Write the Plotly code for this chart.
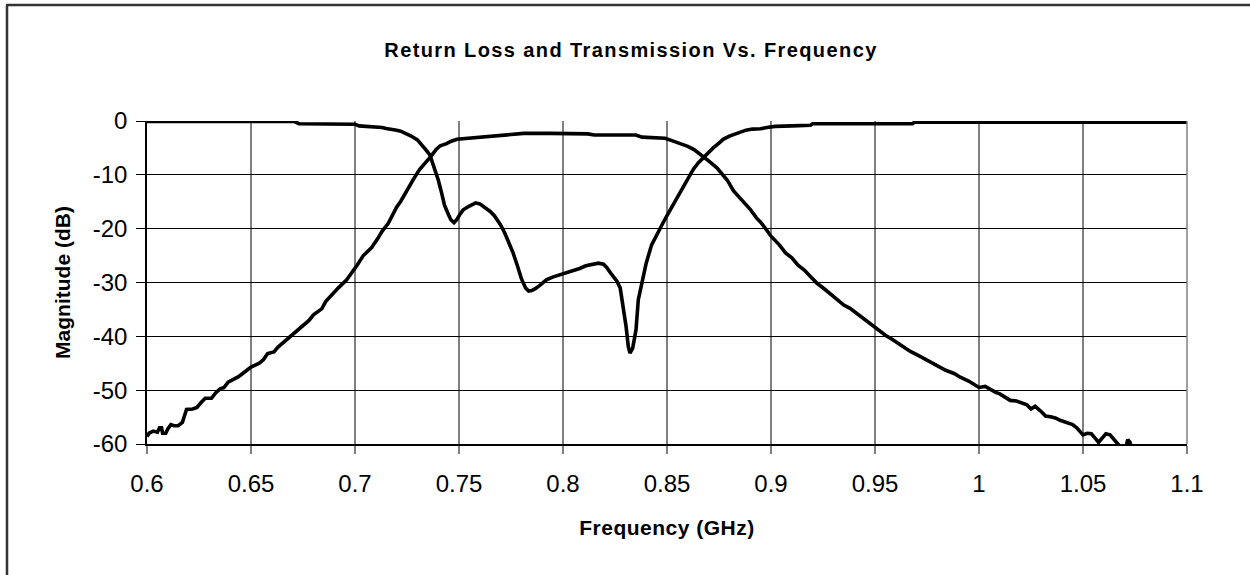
import plotly.graph_objects as go

# ---- data ----
s21_freq = [0.600, 0.601, 0.603, 0.605, 0.606, 0.607, 0.6075, 0.609, 0.610, 0.6115, 0.613, 0.615,
            0.617, 0.618, 0.619, 0.622, 0.624, 0.626, 0.628, 0.631, 0.633, 0.635, 0.637, 0.639,
            0.642, 0.644, 0.646, 0.650, 0.654, 0.656, 0.658, 0.661, 0.663, 0.666, 0.669, 0.672,
            0.675, 0.678, 0.680, 0.684, 0.686, 0.688, 0.692, 0.696, 0.699, 0.701, 0.704, 0.708,
            0.711, 0.713, 0.716, 0.718, 0.720, 0.722, 0.725, 0.728, 0.731, 0.734, 0.736, 0.739,
            0.741, 0.744, 0.746, 0.749, 0.752, 0.755, 0.760, 0.764, 0.770, 0.775, 0.781, 0.794,
            0.805, 0.812, 0.815, 0.825, 0.835, 0.838, 0.845, 0.849, 0.852, 0.856, 0.860, 0.863,
            0.867, 0.870, 0.874, 0.877, 0.879, 0.882, 0.885, 0.887, 0.890, 0.893, 0.895, 0.898,
            0.900, 0.904, 0.907, 0.910, 0.913, 0.916, 0.919, 0.922, 0.926, 0.929, 0.932, 0.935,
            0.938, 0.941, 0.944, 0.948, 0.951, 0.955, 0.958, 0.962, 0.967, 0.971, 0.976, 0.980,
            0.984, 0.988, 0.991, 0.995, 0.998, 1.000, 1.003, 1.005, 1.008, 1.010, 1.013, 1.015,
            1.018, 1.021, 1.023, 1.025, 1.027, 1.030, 1.032, 1.035, 1.037, 1.039, 1.041, 1.043,
            1.045, 1.047, 1.049, 1.050, 1.052, 1.054, 1.056, 1.0575, 1.059, 1.061, 1.063, 1.065,
            1.067, 1.069, 1.0705, 1.071, 1.0715, 1.0725, 1.074]
s21_db = [-58.6, -58.0, -57.6, -57.8, -57.0, -57.0, -58.0, -58.0, -57.2, -56.4, -56.6, -56.6,
          -56.0, -54.5, -53.6, -53.5, -53.2, -52.3, -51.5, -51.5, -50.5, -49.8, -49.5, -48.5,
          -47.9, -47.5, -46.9, -45.7, -45.0, -44.3, -43.2, -42.9, -42.0, -41.0, -40.2, -39.2,
          -38.2, -37.0, -36.0, -34.9, -33.5, -32.6, -31.0, -29.5, -28.0, -26.8, -25.0, -23.5,
          -21.8, -20.5, -19.0, -17.5, -16.0, -14.9, -12.8, -10.9, -9.0, -7.8, -6.8, -5.3,
          -4.6, -4.2, -3.8, -3.4, -3.3, -3.1, -3.0, -2.8, -2.7, -2.5, -2.3, -2.3,
          -2.3, -2.4, -2.6, -2.6, -2.6, -3.0, -3.1, -3.2, -3.6, -4.1, -4.7, -5.3,
          -6.4, -7.4, -8.7, -10.0, -11.0, -13.0, -14.3, -15.2, -16.4, -18.0, -18.8, -20.3,
          -21.4, -23.0, -24.5, -25.4, -26.8, -27.7, -28.9, -30.1, -31.3, -32.3, -33.1, -34.2,
          -34.8, -35.7, -36.6, -37.8, -38.8, -39.8, -40.5, -41.5, -42.8, -43.6, -44.6, -45.5,
          -46.3, -46.9, -47.6, -48.3, -49.0, -49.5, -49.3, -49.8, -50.4, -50.7, -51.5, -51.9,
          -52.0, -52.4, -52.7, -53.5, -53.0, -54.0, -54.8, -55.0, -55.2, -55.6, -55.9, -56.2,
          -56.4, -57.0, -58.0, -58.3, -58.0, -58.1, -59.0, -59.7, -59.0, -58.1, -58.3, -59.2,
          -60.0, -61.0, -60.8, -59.6, -59.2, -59.6, -61.5]

s11_freq = [0.600, 0.630, 0.671, 0.673, 0.690, 0.700, 0.702, 0.710, 0.713, 0.715, 0.718, 0.720,
            0.722, 0.725, 0.727, 0.730, 0.732, 0.734, 0.736, 0.738, 0.740, 0.7416, 0.743, 0.7445,
            0.746, 0.7476, 0.749, 0.7505, 0.752, 0.755, 0.758, 0.760, 0.762, 0.765, 0.767, 0.770,
            0.772, 0.774, 0.776, 0.778, 0.780, 0.782, 0.7835, 0.785, 0.7865, 0.789, 0.792, 0.795,
            0.799, 0.802, 0.805, 0.808, 0.811, 0.814, 0.817, 0.8195, 0.821, 0.8234, 0.826, 0.8275,
            0.829, 0.8303, 0.8314, 0.8322, 0.8335, 0.8345, 0.8351, 0.8362, 0.8378, 0.840, 0.8426, 0.8458,
            0.848, 0.8498, 0.852, 0.8546, 0.8578, 0.860, 0.8626, 0.865, 0.8674, 0.870, 0.8722, 0.875,
            0.877, 0.880, 0.882, 0.885, 0.888, 0.891, 0.895, 0.898, 0.902, 0.910, 0.919, 0.920,
            0.968, 0.969, 1.100]
s11_db = [-0.1, -0.1, -0.1, -0.5, -0.5, -0.6, -0.9, -1.0, -1.2, -1.4, -1.5, -1.7,
          -1.9, -2.4, -2.8, -3.5, -4.3, -5.3, -6.3, -8.5, -10.9, -13.3, -15.6, -17.0,
          -18.3, -18.9, -18.3, -17.3, -16.5, -15.8, -15.2, -15.4, -15.9, -16.8, -17.6, -19.3,
          -20.8, -22.5, -24.5, -26.8, -29.3, -31.0, -31.6, -31.5, -31.2, -30.5, -29.5, -29.0,
          -28.5, -28.3, -27.9, -27.4, -26.9, -26.6, -26.4, -26.6, -27.2, -28.5, -29.8, -31.0,
          -34.4, -38.1, -41.9, -43.1, -42.2, -40.0, -38.8, -33.2, -30.1, -26.4, -23.0, -20.8,
          -19.0, -17.7, -16.2, -14.6, -12.1, -10.6, -9.0, -7.8, -6.8, -5.9, -5.0, -4.1,
          -3.4, -2.8, -2.5, -2.1, -1.7, -1.5, -1.45, -1.2, -1.0, -0.9, -0.8, -0.5,
          -0.5, -0.2, -0.2]

x_ticks = [0.6, 0.65, 0.7, 0.75, 0.8, 0.85, 0.9, 0.95, 1.0, 1.05, 1.1]
x_tick_labels = ["0.6", "0.65", "0.7", "0.75", "0.8", "0.85", "0.9", "0.95", "1", "1.05", "1.1"]
y_ticks = [0, -10, -20, -30, -40, -50, -60]
y_tick_labels = ["0", "-10", "-20", "-30", "-40", "-50", "-60"]

# ---- layout geometry (pixels) ----
W, H = 1250, 575
L, R, T, B = 147, 63, 121, 131
pw, ph = W - L - R, H - T - B


def px_x(p):
    return (p - L) / pw


def px_y(p):
    return (H - B - p) / ph


FONT = "Liberation Sans, Arial, sans-serif"

fig = go.Figure()
fig.add_trace(go.Scatter(x=s21_freq, y=s21_db, mode="lines",
                         line=dict(color="black", width=3.6), name="S21", showlegend=False))
fig.add_trace(go.Scatter(x=s11_freq, y=s11_db, mode="lines",
                         line=dict(color="black", width=3.6), name="S11", showlegend=False))

fig.update_layout(
    width=W, height=H,
    margin=dict(l=L, r=R, t=T, b=B, pad=0),
    paper_bgcolor="white", plot_bgcolor="white",
    font=dict(family=FONT, color="black"),
    title=dict(text="<span style='letter-spacing:1.4px'><b>Return Loss and Transmission Vs. Frequency</b></span>",
               x=px_x(631), xref="paper", xanchor="center",
               y=1 - 50 / H, yref="container", yanchor="middle",
               font=dict(size=20, family=FONT, color="black")),
    showlegend=False,
)

fig.update_xaxes(
    range=[0.6, 1.1], tickmode="array", tickvals=x_ticks, ticktext=x_tick_labels,
    showgrid=True, gridcolor="#808080", gridwidth=1.5,
    showline=True, linecolor="black", linewidth=1.5,
    ticks="outside", ticklen=8, tickcolor="#808080", tickwidth=1.5,
    ticklabelstandoff=9,
    tickfont=dict(size=24, family=FONT, color="black"),
    title=dict(text="<span style='letter-spacing:0.5px'><b>Frequency (GHz)</b></span>",
               font=dict(size=21, family=FONT, color="black"),
               standoff=25),
    zeroline=False,
)
fig.update_yaxes(
    range=[-60, 0], tickmode="array", tickvals=y_ticks, ticktext=y_tick_labels,
    showgrid=True, gridcolor="black", gridwidth=1,
    showline=True, linecolor="black", linewidth=1.5,
    ticks="outside", ticklen=9, tickcolor="black", tickwidth=1,
    ticklabelstandoff=4,
    tickfont=dict(size=24, family=FONT, color="black"),
    title=dict(text="<b>Magnitude (dB)</b>", font=dict(size=21, family=FONT, color="black"),
               standoff=16),
    zeroline=False,
)

# right-edge gridline (grey) and chart border (top + left, cut off by the page)
fig.add_shape(type="line", xref="paper", yref="paper", x0=1, x1=1, y0=0, y1=1,
              line=dict(color="#808080", width=1.5))
fig.add_shape(type="line", xref="paper", yref="paper",
              x0=px_x(6), x1=px_x(W + 20), y0=px_y(5), y1=px_y(5),
              line=dict(color="#333333", width=2.5))
fig.add_shape(type="line", xref="paper", yref="paper",
              x0=px_x(7), x1=px_x(7), y0=px_y(5), y1=px_y(H + 20),
              line=dict(color="#333333", width=2.5))

fig.write_html("out.html", config={"displayModeBar": False},
               post_script="document.body.style.margin='0';")
